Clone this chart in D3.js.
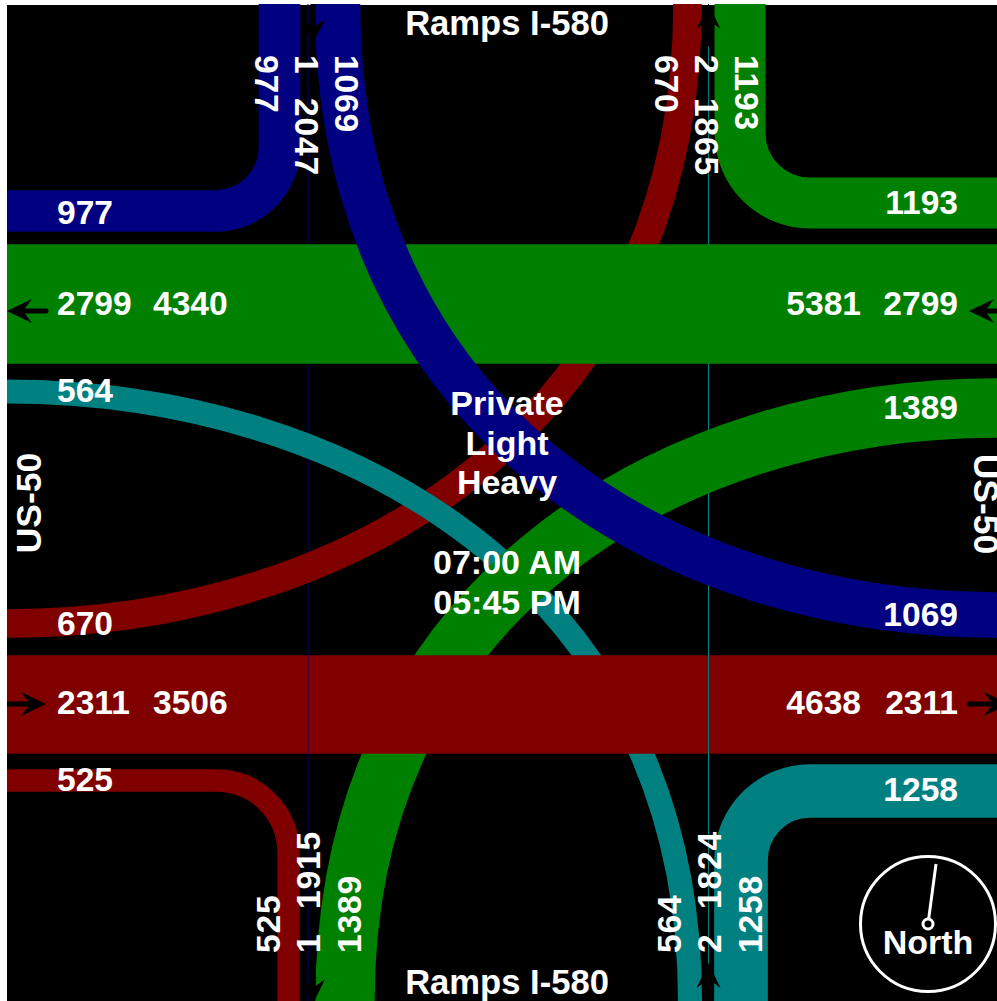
<!DOCTYPE html>
<html><head><meta charset="utf-8">
<script src="https://d3js.org/d3.v7.min.js"></script>
<style>html,body{margin:0;padding:0;background:#fff;overflow:hidden}svg{display:block}
text{font-family:"Liberation Sans",Arial,sans-serif;font-weight:700;font-size:33.6px;fill:#fff}</style>
</head><body><div id="c"></div>
<script>
// ---------- data ----------
const throughVolumes = [2799, 2311];          // westbound, eastbound
const turnVolumes = [977, 1193, 525, 1258];   // NW, NE, SW, SE corner turns
const crossVolumes = [1069, 670, 1389, 564];  // diagonal movements
const heavyVolumes = [1, 2];                  // hairline movements
const westApproach = ["2799", "4340"];
const eastApproachWest = ["5381", "2799"];
const eastboundLeft = ["2311", "3506"];
const eastboundRight = ["4638", "2311"];
const northTotals = ["2047", "1865"];
const southTotals = ["1915", "1824"];
const centerLines = ["Private", "Light", "Heavy"];
const timeLines = ["07:00 AM", "05:45 PM"];
const roadNames = ["Ramps I-580", "US-50"];
const northBearingDeg = 7.6;

const palette = {navy:"#000080", green:"#008000", maroon:"#800000", teal:"#008080"};

// ---------- scene ----------
const W = 997, H = 1001, L = 7, T = 4;
const svg = d3.select("#c").append("svg").attr("width", W).attr("height", H);
svg.append("rect").attr("width", W).attr("height", H).attr("fill", "#fff");
svg.append("clipPath").attr("id", "plot").append("rect")
  .attr("x", L).attr("y", T).attr("width", W - L).attr("height", H - T);
const g = svg.append("g").attr("clip-path", "url(#plot)");
g.append("rect").attr("x", L).attr("y", T + 1).attr("width", W - L).attr("height", H - T).attr("fill", "#000");

const w = d3.scaleLinear().domain([0, 2799]).range([0, 119.5]);

function stroke(d, vol, color) {
  g.append("path").attr("d", d.toString()).attr("fill", "none")
    .attr("stroke", color).attr("stroke-width", w(vol));
}
// corner turn: straight leg, circular corner, straight leg
function turn(xV, yEnd, xEnd, yH, r, vol, color) {
  const p = d3.path();
  const sx = Math.sign(xEnd - xV), sy = Math.sign(yH - yEnd);
  p.moveTo(xV, yEnd);
  p.lineTo(xV, yH - sy * r);
  const k = 0.5523 * r;
  p.bezierCurveTo(xV, yH - sy * r + sy * k, xV + sx * (r - k), yH, xV + sx * r, yH);
  p.lineTo(xEnd, yH);
  stroke(p, vol, color);
}
// sweeping diagonal: vertical start to horizontal end
function sweep(xV, yEnd, xEnd, yH, kx, ky, vol, color) {
  const p = d3.path();
  p.moveTo(xV, yEnd);
  p.bezierCurveTo(xV, yEnd + (yH - yEnd) * ky, xEnd + (xV - xEnd) * kx, yH, xEnd, yH);
  stroke(p, vol, color);
}
function band(y, vol, color) {
  const p = d3.path();
  p.moveTo(L, y); p.lineTo(W, y);
  stroke(p, vol, color);
}
function hair(x, y0, y1, vol, color) {
  g.append("line").attr("x1", x).attr("x2", x).attr("y1", y0).attr("y2", y1)
    .attr("stroke", color).attr("stroke-width", 1 + 0 * w(vol));
}
function arrow(x0, y0, x1, y1) {
  const a = Math.atan2(y1 - y0, x1 - x0), c = Math.cos(a), s = Math.sin(a);
  const pt = (b, o) => [x1 - c * b - s * o, y1 - s * b + c * o];
  const p = d3.path();
  p.moveTo(x0, y0); p.lineTo(...pt(10, 0));
  g.append("path").attr("d", p.toString()).attr("stroke", "#000").attr("stroke-width", 5).attr("stroke-linecap", "round").attr("fill", "none");
  const h = d3.path();
  h.moveTo(x1, y1); h.lineTo(...pt(25, 12)); h.lineTo(...pt(16, 0)); h.lineTo(...pt(25, -12)); h.closePath();
  g.append("path").attr("d", h.toString()).attr("fill", "#000");
}

// hairlines under everything
hair(308, T, H, heavyVolumes[0], palette.navy);
hair(708.5, T, H, heavyVolumes[1], palette.teal);

const KX = 0.5, KY = 0.68;
sweep(687.5, T, L, 623.5, KX, KY, crossVolumes[1], palette.maroon);
band(304, throughVolumes[0], palette.green);
sweep(690, H, L, 391.5, KX, KY, crossVolumes[3], palette.teal);
sweep(345, H, W, 408, KX, KY, crossVolumes[2], palette.green);
band(704.5, throughVolumes[1], palette.maroon);
// hairlines remain visible over the eastbound band
hair(308, 655, 754, heavyVolumes[0], palette.navy);
hair(708.5, 655, 754, heavyVolumes[1], palette.teal);
sweep(337.5, T, W, 615, KX, KY, crossVolumes[0], palette.navy);

turn(279.5, T, L, 211, 64, turnVolumes[0], palette.navy);
turn(740, T, W, 203, 70, turnVolumes[1], palette.green);
turn(288.5, H, L, 780.5, 72, turnVolumes[2], palette.maroon);
turn(741, H, W, 791, 69, turnVolumes[3], palette.teal);

arrow(313, T, 313, 44);
arrow(313, 964, 313, 1004);
arrow(708.5, 44, 708.5, T);
arrow(708.5, 1003, 708.5, 963);
arrow(46, 311, L, 311);
arrow(1009, 311, 969, 311);
arrow(L, 704, 46, 704);
arrow(969, 704, 1009, 704);

// ---------- text ----------
function label(s, x, y, anchor = "start", rot = 0, size = null, spacing = rot ? 0.8 : 0) {
  const t = svg.append("text").text(s).attr("text-anchor", anchor)
    .attr("transform", `translate(${x},${y}) rotate(${rot})`);
  if (size) t.style("font-size", size + "px");
  if (spacing) t.style("letter-spacing", spacing + "px");
}
label(roadNames[0], 507, 35, "middle", 0, 34.6);
label(roadNames[0], 507, 994, "middle", 0, 34.6);
label(roadNames[1], 41, 503, "middle", -90, 35.5, 0);
label(roadNames[1], 974, 504, "middle", 90, 35.5, 0);

centerLines.forEach((s, i) => label(s, 507, [415, 455, 494][i], "middle", 0, 34));
timeLines.forEach((s, i) => label(s, 507, [574, 614][i], "middle", 0, 34));

// west edge
label(turnVolumes[0], 57, 224);
label(westApproach[0], 57, 315); label(westApproach[1], 153, 315);
label(crossVolumes[3], 57, 402);
label(crossVolumes[1], 57, 635);
label(eastboundLeft[0], 57, 714); label(eastboundLeft[1], 153, 714);
label(turnVolumes[2], 57, 791);
// east edge
label(turnVolumes[1], 958, 214, "end");
label(eastApproachWest[0], 861, 315, "end"); label(eastApproachWest[1], 958, 315, "end");
label(crossVolumes[2], 958, 419, "end");
label(crossVolumes[0], 958, 626, "end");
label(eastboundRight[0], 861, 714, "end"); label(eastboundRight[1], 958, 714, "end");
label(turnVolumes[3], 958, 801, "end");
// north edge
label(turnVolumes[0], 254.5, 55, "start", 90);
label(heavyVolumes[0], 294.5, 55, "start", 90);
label(northTotals[0], 294.5, 98, "start", 90);
label(crossVolumes[0], 334.5, 55, "start", 90);
label(crossVolumes[1], 654.5, 55, "start", 90);
label(heavyVolumes[1], 694.5, 55, "start", 90);
label(northTotals[1], 694.5, 98, "start", 90);
label(turnVolumes[1], 735, 55, "start", 90);
// south edge
label(turnVolumes[2], 280, 953, "start", -90);
label(heavyVolumes[0], 320, 953, "start", -90);
label(southTotals[0], 320, 909, "start", -90);
label(crossVolumes[2], 361, 953, "start", -90);
label(crossVolumes[3], 681, 953, "start", -90);
label(heavyVolumes[1], 721, 953, "start", -90);
label(southTotals[1], 721, 909, "start", -90);
label(turnVolumes[3], 762, 953, "start", -90);

// compass
const cx = 928, cy = 924, needle = 60.5;
svg.append("circle").attr("cx", cx).attr("cy", cy).attr("r", 67.5).attr("fill", "none").attr("stroke", "#fff").attr("stroke-width", 3);
const rad = northBearingDeg * Math.PI / 180;
svg.append("line").attr("x1", cx).attr("y1", cy)
  .attr("x2", cx + needle * Math.sin(rad)).attr("y2", cy - needle * Math.cos(rad))
  .attr("stroke", "#fff").attr("stroke-width", 3);
svg.append("circle").attr("cx", cx).attr("cy", cy).attr("r", 5).attr("fill", "#000").attr("stroke", "#fff").attr("stroke-width", 3);
label("North", cx, 954, "middle", 0, 34);
</script></body></html>
